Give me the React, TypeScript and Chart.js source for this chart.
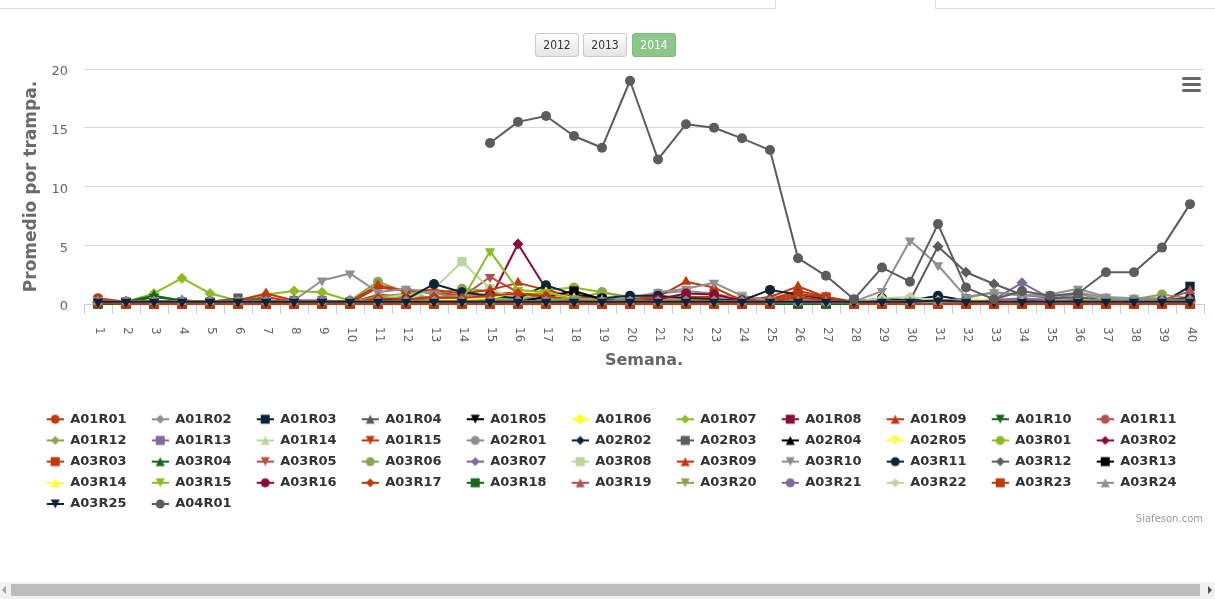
import React, { useEffect, useRef } from "react";
import { Chart, registerables } from "chart.js";
Chart.register(...registerables);

// ---------- data ----------
const weekLabels = ["1","2","3","4","5","6","7","8","9","10","11","12","13","14","15","16","17","18","19","20","21","22","23","24","25","26","27","28","29","30","31","32","33","34","35","36","37","38","39","40"];
const yTickValues = [0, 5, 10, 15, 20];
const yAxisTitle = "Promedio por trampa.";
const xAxisTitle = "Semana.";
const yearButtons = ["2012", "2013", "2014"];
const creditText = "Siafeson.com";

const seriesNames = ["A01R01","A01R02","A01R03","A01R04","A01R05","A01R06","A01R07","A01R08","A01R09","A01R10","A01R11","A01R12","A01R13","A01R14","A01R15","A02R01","A02R02","A02R03","A02R04","A02R05","A03R01","A03R02","A03R03","A03R04","A03R05","A03R06","A03R07","A03R08","A03R09","A03R10","A03R11","A03R12","A03R13","A03R14","A03R15","A03R16","A03R17","A03R18","A03R19","A03R20","A03R21","A03R22","A03R23","A03R24","A03R25","A04R01"];

const A01R01 = [0.5,0.2,0.2,0.2,0.2,0.2,0.3,0.2,0.2,0.2, 0.4,0.5,0.4,0.3,0.4,0.4,0.3,0.2,0.2,0.2, 0.3,0.4,0.3,0.2,0.3,0.5,0.3,0.2,0.2,0.2, 0.2,0.2,0.2,0.3,0.2,0.2,0.2,0.2,0.2,0.6];
const A01R02 = [0.1,0.1,0.1,0.1,0.1,0.2,0.2,0.3,0.3,0.2, 0.3,0.6,0.4,0.3,0.3,0.2,0.2,0.2,0.2,0.2, 0.5,0.6,0.5,0.3,0.2,0.2,0.2,0.2,0.4,0.3, 0.3,0.2,0.4,0.4,0.3,0.5,0.2,0.2,0.3,0.3];
const A01R03 = [0.1,0.1,0.1,0.1,0.1,0.1,0.1,0.1,0.1,0.1, 0.1,0.1,0.3,0.2,0.1,0.1,0.2,0.1,0.1,0.1, 0.1,0.1,0.1,0.1,0.2,0.1,0.1,0.1,0.1,0.1, 0.2,0.1,0.1,0.1,0.1,0.1,0.1,0.1,0.1,1.5];
const A01R04 = [0.1,0.1,0.1,0.1,0.2,0.4,0.2,0.1,0.1,0.1, 0.2,0.3,0.2,0.1,0.2,0.1,0.2,0.1,0.1,0.1, 0.1,0.2,0.2,0.1,0.1,0.1,0.1,0.1,0.2,0.1, 0.4,0.2,0.1,0.2,0.1,0.2,0.1,0.1,0.1,0.2];
const A01R05 = [0.1,0.1,0.1,0.1,0.1,0.1,0.1,0.1,0.1,0.1, 0.1,0.1,0.2,0.1,0.1,0.1,0.3,0.5,0.2,0.1, 0.1,0.1,0.1,0.1,0.1,0.1,0.1,0.1,0.1,0.1, 0.1,0.1,0.1,0.1,0.1,0.1,0.1,0.1,0.1,0.1];
const A01R06 = [0,0,0,0,0,0,0,0,0,0, 0,0.1,0.2,0.2,0.3,0.4,0.4,0.2,0.1,0.1, 0,0,0.1,0,0,0.1,0,0,0.1,0.2, 0.3,0.4,0.2,0.1,0.1,0,0.1,0.1,0.2,0.2];
const A01R07 = [0.1,0.2,0.9,2.2,0.9,0.3,0.8,1.1,1.0,0.3, 0.5,0.5,0.4,0.3,0.3,0.4,0.5,0.4,0.3,0.2, 0.2,0.2,0.2,0.2,0.2,0.2,0.2,0.1,0.2,0.3, 0.2,0.2,0.3,0.2,0.2,0.2,0.3,0.2,0.3,0.4];
const A01R08 = [0,0,0,0,0,0,0,0,0,0, 0,0,0,0,0,0.1,0.2,0,0,0, 0.1,0.3,0.2,0,0,0,0,0,0,0, 0,0,0,0,0,0,0,0,0,0];
const A01R09 = [0.2,0.1,0.1,0.1,0.1,0.2,0.6,0.2,0.1,0.1, 0.8,0.6,0.5,0.4,0.6,0.9,0.6,0.3,0.2,0.2, 0.2,0.5,0.6,0.2,0.3,0.9,0.4,0.1,0.1,0.1, 0.2,0.2,0.1,0.2,0.1,0.1,0.1,0.1,0.2,0.4];
const A01R10 = [0.1,0.1,0.6,0.3,0.2,0.1,0.1,0.1,0.1,0.1, 0.1,0.1,0.1,0.1,0.2,0.1,0.1,0.1,0.1,0.1, 0.1,0.1,0.1,0.1,0.1,0.1,0.1,0.1,0.1,0.1, 0.1,0.1,0.1,0.1,0.1,0.1,0.1,0.1,0.1,0.1];
const A01R11 = [0.1,0.1,0.1,0.1,0.1,0.1,0.1,0.1,0.1,0.1, 0.2,0.2,0.3,0.4,0.9,0.5,0.3,0.2,0.1,0.1, 0.1,0.1,0.1,0.1,0.1,0.2,0.1,0.1,0.1,0.1, 0.1,0.1,0.1,0.1,0.1,0.1,0.1,0.1,0.2,0.3];
const A01R12 = [0.2,0.2,0.2,0.2,0.2,0.2,0.2,0.2,0.2,0.2, 0.6,0.9,0.5,0.6,0.4,0.3,0.3,0.3,0.4,0.3, 0.2,0.2,0.2,0.3,0.2,0.2,0.2,0.2,0.2,0.3, 0.2,0.2,0.2,0.2,0.2,0.2,0.3,0.3,0.4,0.3];
const A01R13 = [0.1,0.1,0.1,0.1,0.1,0.2,0.2,0.3,0.3,0.2, 0.1,0.2,0.1,0.1,0.1,0.1,0.1,0.1,0.1,0.1, 0.1,0.2,0.2,0.1,0.1,0.1,0.1,0.1,0.2,0.1, 0.1,0.1,0.2,0.5,0.2,0.1,0.1,0.1,0.1,0.1];
const A01R14 = [0.2,0.2,0.2,0.2,0.2,0.2,0.2,0.2,0.2,0.2, 0.4,0.8,1.0,0.6,0.4,0.3,0.3,0.2,0.2,0.2, 0.2,0.2,0.3,0.3,0.2,0.2,0.2,0.2,0.3,0.3, 0.2,0.2,0.2,0.2,0.2,0.2,0.4,0.3,0.2,0.2];
const A01R15 = [0.1,0.1,0.1,0.1,0.1,0.1,0.2,0.1,0.1,0.1, 1.4,1.1,1.0,0.7,0.8,1.0,0.8,0.4,0.2,0.2, 0.3,0.6,0.6,0.2,0.4,1.1,0.6,0.1,0.1,0.1, 0.1,0.1,0.1,0.1,0.1,0.1,0.1,0.1,0.1,0.2];
const A02R01 = [0.2,0.2,0.2,0.2,0.2,0.2,0.2,0.2,0.2,0.2, 0.3,0.5,0.4,0.8,0.5,0.4,0.3,0.3,0.3,0.4, 0.9,1.1,0.9,0.4,0.3,0.3,0.3,0.2,0.4,0.3, 0.3,0.2,0.3,0.4,0.4,0.9,0.3,0.3,0.3,0.3];
const A02R02 = [0.1,0.1,0.1,0.1,0.1,0.1,0.1,0.1,0.1,0.1, 0.1,0.1,0.2,0.2,0.3,0.2,0.8,0.3,0.2,0.2, 0.2,0.1,0.1,0.1,0.3,0.2,0.1,0.1,0.2,0.1, 0.3,0.1,0.1,0.1,0.1,0.1,0.1,0.1,0.1,0.2];
const A02R03 = [0.2,0.2,0.2,0.2,0.2,0.5,0.3,0.2,0.2,0.2, 0.2,0.3,0.2,0.2,0.2,0.2,0.2,0.2,0.2,0.2, 0.2,0.2,0.2,0.2,0.2,0.2,0.2,0.3,0.2,0.2, 0.2,0.3,0.2,0.2,0.2,0.2,0.2,0.2,0.2,0.2];
const A02R04 = [0.1,0.1,0.1,0.1,0.1,0.1,0.1,0.1,0.1,0.1, 0.1,0.1,0.1,0.1,0.1,0.1,0.2,0.4,0.1,0.1, 0.1,0.1,0.1,0.1,0.1,0.1,0.1,0.1,0.1,0.1, 0.1,0.1,0.1,0.1,0.1,0.1,0.1,0.1,0.1,0.1];
const A02R05 = [0.2,0.2,0.2,0.2,0.2,0.2,0.2,0.2,0.2,0.2, 0.2,0.2,0.3,0.3,0.4,0.7,0.8,0.4,0.2,0.2, 0.2,0.2,0.2,0.2,0.2,0.2,0.2,0.2,0.2,0.3, 0.3,0.3,0.3,0.2,0.2,0.2,0.2,0.2,0.3,0.3];
const A03R01 = [0.2,0.2,0.2,0.2,0.2,0.2,0.2,0.2,0.2,0.2, 0.4,0.5,0.5,0.4,0.4,0.6,1.2,1.4,1.0,0.5, 0.3,0.3,0.3,0.3,0.3,0.3,0.2,0.2,0.3,0.3, 0.2,0.3,0.3,0.3,0.2,0.2,0.3,0.3,0.3,0.5];
const A03R02 = [0.1,0.1,0.1,0.1,0.1,0.1,0.1,0.1,0.1,0.1, 0.1,0.2,0.2,0.2,0.4,5.1,1.3,0.3,0.2,0.2, 0.2,0.3,0.3,0.2,0.2,0.2,0.1,0.1,0.1,0.1, 0.1,0.1,0.1,0.1,0.1,0.1,0.1,0.1,0.1,0.1];
const A03R03 = [0.3,0.1,0,0,0,0,0,0,0,0, 0,0,0,0,0,0,0,0,0,0, 0,0,0,0,0,0,0.1,0,0,0, 0,0,0,0,0,0,0,0,0,0];
const A03R04 = [0.2,0.2,0.7,0.3,0.2,0.2,0.2,0.2,0.2,0.2, 0.2,0.2,0.2,0.2,0.2,0.2,0.2,0.2,0.2,0.2, 0.2,0.2,0.2,0.2,0.2,0.2,0.2,0.2,0.2,0.2, 0.2,0.2,0.2,0.2,0.2,0.2,0.2,0.2,0.2,0.2];
const A03R05 = [0.2,0.2,0.2,0.2,0.2,0.2,0.2,0.2,0.2,0.2, 0.3,0.3,0.4,0.6,2.3,1.0,0.4,0.3,0.2,0.2, 0.2,0.2,0.2,0.2,0.2,0.2,0.2,0.2,0.2,0.2, 0.2,0.2,0.2,0.2,0.2,0.2,0.2,0.2,0.2,0.3];
const A03R06 = [0.2,0.2,0.2,0.2,0.2,0.2,0.2,0.2,0.2,0.3, 1.9,1.0,0.9,1.3,1.1,0.6,0.5,0.4,1.0,0.6, 0.4,0.4,0.4,0.3,0.3,0.3,0.3,0.2,0.3,0.4, 0.3,0.3,0.3,0.3,0.3,0.3,0.4,0.4,0.8,0.5];
const A03R07 = [0.2,0.2,0.2,0.2,0.2,0.2,0.2,0.2,0.2,0.2, 0.2,0.2,0.2,0.2,0.2,0.2,0.2,0.2,0.2,0.2, 0.2,0.2,0.2,0.2,0.2,0.2,0.2,0.2,0.2,0.2, 0.2,0.2,0.4,1.8,0.5,0.3,0.2,0.2,0.2,0.2];
const A03R08 = [0.2,0.2,0.2,0.2,0.2,0.2,0.2,0.2,0.2,0.2, 0.2,0.3,1.3,3.6,1.3,0.4,0.3,0.3,0.2,0.2, 0.2,0.3,0.4,0.7,0.3,0.2,0.2,0.2,0.3,0.4, 0.3,0.3,0.3,0.3,0.3,0.3,0.5,0.4,0.3,0.3];
const A03R09 = [0.2,0.2,0.2,0.2,0.2,0.3,0.9,0.3,0.2,0.2, 1.6,1.1,1.2,0.9,1.2,1.8,1.2,0.6,0.4,0.4, 0.6,1.9,1.4,0.3,0.6,1.5,0.6,0.2,0.2,0.2, 0.3,0.3,0.2,0.3,0.2,0.2,0.2,0.2,0.2,0.6];
const A03R10 = [0.2,0.2,0.2,0.2,0.2,0.2,0.2,0.3,2.0,2.6, 1.0,1.3,0.9,0.5,0.4,0.3,0.4,0.3,0.3,0.5, 1.0,1.3,1.8,0.7,0.3,0.4,0.3,0.2,1.1,5.4, 3.3,0.6,1.0,0.7,0.8,1.3,0.6,0.5,0.5,0.4];
const A03R11 = [0.2,0.2,0.2,0.2,0.2,0.2,0.2,0.2,0.2,0.2, 0.3,0.4,1.7,1.0,0.7,0.5,1.6,0.8,0.5,0.7, 0.7,0.5,0.4,0.3,1.2,0.8,0.4,0.2,0.5,0.3, 0.7,0.3,0.2,0.3,0.2,0.3,0.2,0.2,0.3,0.5];
const A03R12 = [0.2,0.2,0.2,0.2,0.2,0.2,0.2,0.2,0.2,0.2, 0.2,0.2,0.2,0.2,0.2,0.2,0.2,0.2,0.2,0.2, 0.2,0.2,0.2,0.2,0.2,0.2,0.2,0.2,0.2,0.3, 4.9,2.7,1.7,0.8,0.5,0.6,0.3,0.3,0.3,0.4];
const A03R13 = [0.1,0.1,0.1,0.1,0.1,0.1,0.1,0.1,0.1,0.1, 0.1,0.1,0.1,0.1,0.1,0.2,0.6,1.1,0.4,0.1, 0.1,0.1,0.1,0.1,0.1,0.1,0.1,0.1,0.1,0.1, 0.1,0.1,0.1,0.1,0.1,0.1,0.1,0.1,0.1,0.1];
const A03R14 = [0.1,0.1,0.1,0.1,0.1,0.1,0.1,0.1,0.1,0.1, 0.1,0.2,0.3,0.4,0.5,1.0,1.0,0.5,0.3,0.2, 0.1,0.1,0.1,0.1,0.1,0.1,0.1,0.1,0.2,0.2, 0.2,0.4,0.3,0.2,0.1,0.1,0.1,0.2,0.3,0.2];
const A03R15 = [0.1,0.1,0.1,0.1,0.1,0.1,0.1,0.1,0.1,0.1, 0.1,0.1,0.2,0.3,4.5,1.2,1.0,0.4,0.2,0.1, 0.1,0.1,0.1,0.1,0.1,0.1,0.1,0.1,0.1,0.1, 0.1,0.1,0.1,0.1,0.1,0.1,0.1,0.1,0.1,0.2];
const A03R16 = [0.2,0.2,0.2,0.2,0.2,0.2,0.2,0.2,0.2,0.2, 0.2,0.2,0.2,0.2,0.2,0.2,0.2,0.2,0.2,0.2, 0.4,0.9,0.8,0.3,0.2,0.2,0.2,0.2,0.2,0.2, 0.2,0.2,0.2,0.2,0.2,0.2,0.2,0.2,0.2,0.2];
const A03R17 = [0.1,0.1,0.1,0.1,0.1,0.1,0.1,0.1,0.1,0.1, 0.5,0.4,0.6,0.5,0.7,0.9,0.7,0.3,0.2,0.2, 0.2,0.3,0.3,0.2,0.2,0.6,0.3,0.1,0.1,0.1, 0.1,0.1,0.2,0.2,0.1,0.1,0.1,0.1,0.1,0.3];
const A03R18 = [0,0,0,0,0,0,0,0,0,0, 0,0,0,0,0,0,0,0,0,0, 0,0,0,0,0,0,0,0,0,0, 0,0,0,0,0,0,0,0,0,0];
const A03R19 = [0.1,0.1,0.1,0.1,0.1,0.1,0.1,0.1,0.1,0.1, 0.1,0.1,0.1,0.1,0.1,0.1,0.1,0.1,0.1,0.1, 0.1,0.1,0.1,0.1,0.1,0.1,0.1,0.1,0.1,0.1, 0.1,0.1,0.1,0.1,0.1,0.1,0.1,0.1,0.3,1.1];
const A03R20 = [0.2,0.2,0.2,0.2,0.2,0.2,0.2,0.2,0.2,0.2, 0.2,0.2,0.2,0.2,0.2,0.2,0.3,0.5,0.3,0.2, 0.2,0.2,0.2,0.2,0.2,0.2,0.2,0.2,0.2,0.2, 0.2,0.2,0.2,0.2,0.2,0.2,0.4,0.3,0.2,0.2];
const A03R21 = [0.2,0.2,0.2,0.2,0.2,0.2,0.2,0.2,0.2,0.2, 0.2,0.2,0.2,0.2,0.2,0.2,0.2,0.2,0.2,0.2, 0.2,0.2,0.2,0.2,0.2,0.2,0.2,0.2,0.2,0.2, 0.2,0.2,0.3,0.5,0.3,0.2,0.2,0.2,0.2,0.2];
const A03R22 = [0.2,0.2,0.2,0.2,0.2,0.2,0.2,0.2,0.2,0.2, 0.2,0.2,0.2,0.2,0.2,0.2,0.2,0.2,0.2,0.2, 0.2,0.2,0.2,0.2,0.2,0.2,0.2,0.2,0.5,0.6, 0.3,0.2,0.2,0.2,0.2,0.2,0.2,0.2,0.2,0.2];
const A03R23 = [0.1,0,0,0,0,0,0,0,0,0, 0,0,0,0,0,0,0,0,0,0, 0,0,0,0,0,0.8,0.6,0,0,0, 0,0,0,0,0,0,0,0,0,0];
const A03R24 = [0.2,0.2,0.2,0.2,0.2,0.2,0.2,0.2,0.2,0.2, 0.2,0.2,0.2,0.2,0.2,0.2,0.2,0.2,0.2,0.2, 0.2,0.2,0.2,0.2,0.2,0.2,0.2,0.2,0.2,0.2, 0.2,0.5,1.0,0.8,0.6,1.0,0.5,0.3,0.3,0.3];
const A03R25 = [0.2,0.2,0.2,0.2,0.2,0.2,0.2,0.2,0.2,0.2, 0.2,0.2,0.2,0.2,0.2,0.2,0.2,0.2,0.2,0.2, 0.2,0.2,0.2,0.2,0.2,0.2,0.2,0.2,0.2,0.2, 0.3,0.2,0.2,0.2,0.2,0.2,0.2,0.2,0.2,0.2];
const A04R01 = [null,null,null,null,null,null,null,null,null,null, null,null,null,null,13.7,15.5,16.0,14.3,13.3,19.0, 12.3,15.3,15.0,14.1,13.1,3.9,2.4,0.4,3.1,1.9, 6.8,1.4,0.4,1.1,0.7,0.9,2.7,2.7,4.8,8.5];

const seriesValues = [A01R01,A01R02,A01R03,A01R04,A01R05,A01R06,A01R07,A01R08,A01R09,A01R10,A01R11,A01R12,A01R13,A01R14,A01R15,A02R01,A02R02,A02R03,A02R04,A02R05,A03R01,A03R02,A03R03,A03R04,A03R05,A03R06,A03R07,A03R08,A03R09,A03R10,A03R11,A03R12,A03R13,A03R14,A03R15,A03R16,A03R17,A03R18,A03R19,A03R20,A03R21,A03R22,A03R23,A03R24,A03R25,A04R01];

// ---------- style ----------
const palette = ["#C1390B","#8F8F8F","#0D233A","#5C5C5C","#000000","#FFFF33","#8BBC21","#8C0A34","#C1390B","#17671A","#B5504F","#8BA54F","#80699B","#BDD6A0"];
const shapes = ["circle","diamond","square","triangle","triangle-down"];
const FONT = '"DejaVu Sans", Verdana, sans-serif';
const LEG_PAD = 8.2;

function pointCfg(shape: string) {
  switch (shape) {
    case "circle": return { style: "circle", rot: 0, r: 5 };
    case "diamond": return { style: "rectRot", rot: 0, r: 5.5 };
    case "square": return { style: "rect", rot: 0, r: 6.6 };
    case "triangle": return { style: "triangle", rot: 0, r: 6 };
    default: return { style: "triangle", rot: 180, r: 6 };
  }
}

function makeSymbol(color: string, shape: string, w: number) {
  const c = document.createElement("canvas");
  c.width = w;
  c.height = 14;
  const ctx = c.getContext("2d")!;
  const cy = 7;
  const cx = w - 8.5;
  const s = 4.5;
  ctx.strokeStyle = color;
  ctx.lineWidth = 2;
  ctx.beginPath();
  ctx.moveTo(w - 17, cy);
  ctx.lineTo(w, cy);
  ctx.stroke();
  ctx.fillStyle = color;
  ctx.beginPath();
  if (shape === "circle") ctx.arc(cx, cy, s, 0, Math.PI * 2);
  else if (shape === "diamond") { ctx.moveTo(cx, cy - s); ctx.lineTo(cx + s, cy); ctx.lineTo(cx, cy + s); ctx.lineTo(cx - s, cy); ctx.closePath(); }
  else if (shape === "square") ctx.rect(cx - s, cy - s, 2 * s, 2 * s);
  else if (shape === "triangle") { ctx.moveTo(cx, cy - s); ctx.lineTo(cx + s, cy + s); ctx.lineTo(cx - s, cy + s); ctx.closePath(); }
  else { ctx.moveTo(cx - s, cy - s); ctx.lineTo(cx + s, cy - s); ctx.lineTo(cx, cy + s); ctx.closePath(); }
  ctx.fill();
  return c;
}

const xLabelPlugin = {
  id: "xLabelsRotated",
  afterDraw(chart: any) {
    const scale = chart.scales.x;
    const ctx = chart.ctx;
    ctx.save();
    ctx.font = `12px ${FONT}`;
    ctx.fillStyle = "#666666";
    ctx.textAlign = "left";
    ctx.textBaseline = "middle";
    weekLabels.forEach((lab, i) => {
      const x = scale.getPixelForTick(i);
      ctx.save();
      ctx.translate(x + 1, scale.top + 23);
      ctx.rotate(Math.PI / 2);
      ctx.fillText(lab, 0, 0);
      ctx.restore();
    });
    ctx.restore();
  },
};

export default function App() {
  const ref = useRef<HTMLCanvasElement>(null);

  useEffect(() => {
    const canvas = ref.current!;
    const m = document.createElement("canvas").getContext("2d")!;
    m.font = `bold 13px ${FONT}`;
    const textW = m.measureText(seriesNames[0]).width;
    const boxW = 105 - LEG_PAD - 6.5 - textW;
    const symbols = seriesNames.map((_, i) => makeSymbol(palette[i % 14], shapes[i % 5], Math.round(boxW)));

    const datasets = seriesNames.map((name, i) => {
      const color = palette[i % 14];
      const p = pointCfg(shapes[i % 5]);
      return {
        label: name,
        data: seriesValues[i],
        borderColor: color,
        backgroundColor: color,
        borderWidth: 2,
        borderJoinStyle: "round",
        borderCapStyle: "round",
        pointStyle: p.style,
        pointRotation: p.rot,
        pointRadius: p.r,
        pointBorderWidth: 0,
        pointBackgroundColor: color,
        pointBorderColor: color,
        tension: 0,
        spanGaps: false,
        clip: false,
        order: -i,
      };
    });

    const chart = new Chart(canvas, {
      type: "line",
      data: { labels: weekLabels, datasets: datasets as any },
      plugins: [xLabelPlugin],
      options: {
        animation: false,
        responsive: false,
        events: [],
        layout: { padding: { left: 21.5, right: 11, top: 69, bottom: 19.5 } },
        scales: {
          x: {
            type: "category",
            offset: true,
            grid: {
              offset: true,
              drawOnChartArea: false,
              drawTicks: true,
              tickLength: 10,
              tickColor: "#C0D0E0",
              color: "#C0D0E0",
            },
            border: { display: true, color: "#C0D0E0", width: 1 },
            ticks: { display: false },
            title: {
              display: true,
              text: xAxisTitle,
              color: "#666666",
              font: { family: FONT, size: 16, weight: "bold" },
              padding: { top: 0, bottom: 34 },
            },
            afterFit: (s: any) => { s.height = 100.5; },
          },
          y: {
            min: 0,
            max: 20,
            afterBuildTicks: (s: any) => { s.ticks = yTickValues.map((v) => ({ value: v })); },
            grid: { color: "#D8D8D8", drawTicks: false, lineWidth: 1 },
            border: { display: false },
            ticks: {
              color: "#666666",
              font: { family: FONT, size: 13 },
              padding: 16,
              labelOffset: 3,
            },
            title: {
              display: true,
              text: yAxisTitle,
              color: "#6b6b6b",
              font: { family: FONT, size: 17, weight: "bold" },
              padding: { top: 0, bottom: 0 },
            },
            afterFit: (s: any) => { s.width = 62.5; },
          },
        },
        plugins: {
          tooltip: { enabled: false },
          legend: {
            display: true,
            position: "bottom",
            align: "start",
            onClick: () => {},
            labels: {
              usePointStyle: true,
              pointStyleWidth: boxW,
              padding: LEG_PAD,
              color: "#333333",
              font: { family: FONT, size: 13, weight: "bold" },
              generateLabels: (ch: any) =>
                ch.data.datasets.map((ds: any, i: number) => ({
                  text: ds.label,
                  fillStyle: ds.borderColor,
                  strokeStyle: ds.borderColor,
                  fontColor: "#333333",
                  lineWidth: 0,
                  pointStyle: symbols[i],
                  hidden: false,
                  datasetIndex: i,
                })),
            },
          },
        },
      } as any,
    });
    return () => chart.destroy();
  }, []);

  const btnBase: any = {
    position: "absolute",
    top: 33,
    height: 24,
    boxSizing: "border-box",
    borderRadius: 3,
    fontFamily: '"Liberation Sans Narrow", "DejaVu Sans Condensed", "Liberation Sans", sans-serif',
    fontSize: 12,
    lineHeight: "22px",
    textAlign: "center",
  };
  const btnPos = [{ left: 535, width: 44 }, { left: 583, width: 44 }, { left: 632, width: 44 }];

  return (
    <div style={{ position: "fixed", left: 0, top: 0, width: 1215, height: 599, background: "#ffffff", overflow: "hidden" }}>
      <div style={{ position: "absolute", left: 0, top: 0, width: 775, height: 8, borderBottom: "1px solid #dcdcdc", borderRight: "1px solid #dcdcdc" }} />
      <div style={{ position: "absolute", left: 935, top: 0, width: 280, height: 8, borderBottom: "1px solid #dcdcdc", borderLeft: "1px solid #dcdcdc" }} />
      <canvas ref={ref} width={1215} height={540} style={{ position: "absolute", left: 0, top: 0 }} />
      {yearButtons.map((y, i) => (
        <div
          key={y}
          style={{
            ...btnBase,
            ...btnPos[i],
            background: i === 2 ? "#8DC68B" : "linear-gradient(#fdfdfd, #e4e4e4)",
            border: i === 2 ? "1px solid #80bb7e" : "1px solid #c9c9c9",
            color: i === 2 ? "#ffffff" : "#333333",
          }}
        >
          {y}
        </div>
      ))}
      {[77, 83, 89].map((t) => (
        <div key={t} style={{ position: "absolute", left: 1182, top: t, width: 19, height: 3, borderRadius: 1.5, background: "#666666" }} />
      ))}
      <div style={{ position: "absolute", right: 12, top: 513, fontFamily: FONT, fontSize: 10, color: "#999999" }}>{creditText}</div>
      <div style={{ position: "absolute", left: 0, top: 582, width: 1215, height: 17, background: "#f1f1f1" }}>
        <div style={{ position: "absolute", left: 11, top: 2, width: 1189, height: 12, background: "#bdbdbd" }} />
        <div style={{ position: "absolute", left: 2, top: 4, width: 0, height: 0, borderTop: "4px solid transparent", borderBottom: "4px solid transparent", borderRight: "4px solid #a3a3a3" }} />
        <div style={{ position: "absolute", left: 1208, top: 4, width: 0, height: 0, borderTop: "4px solid transparent", borderBottom: "4px solid transparent", borderLeft: "4px solid #505050" }} />
      </div>
    </div>
  );
}
